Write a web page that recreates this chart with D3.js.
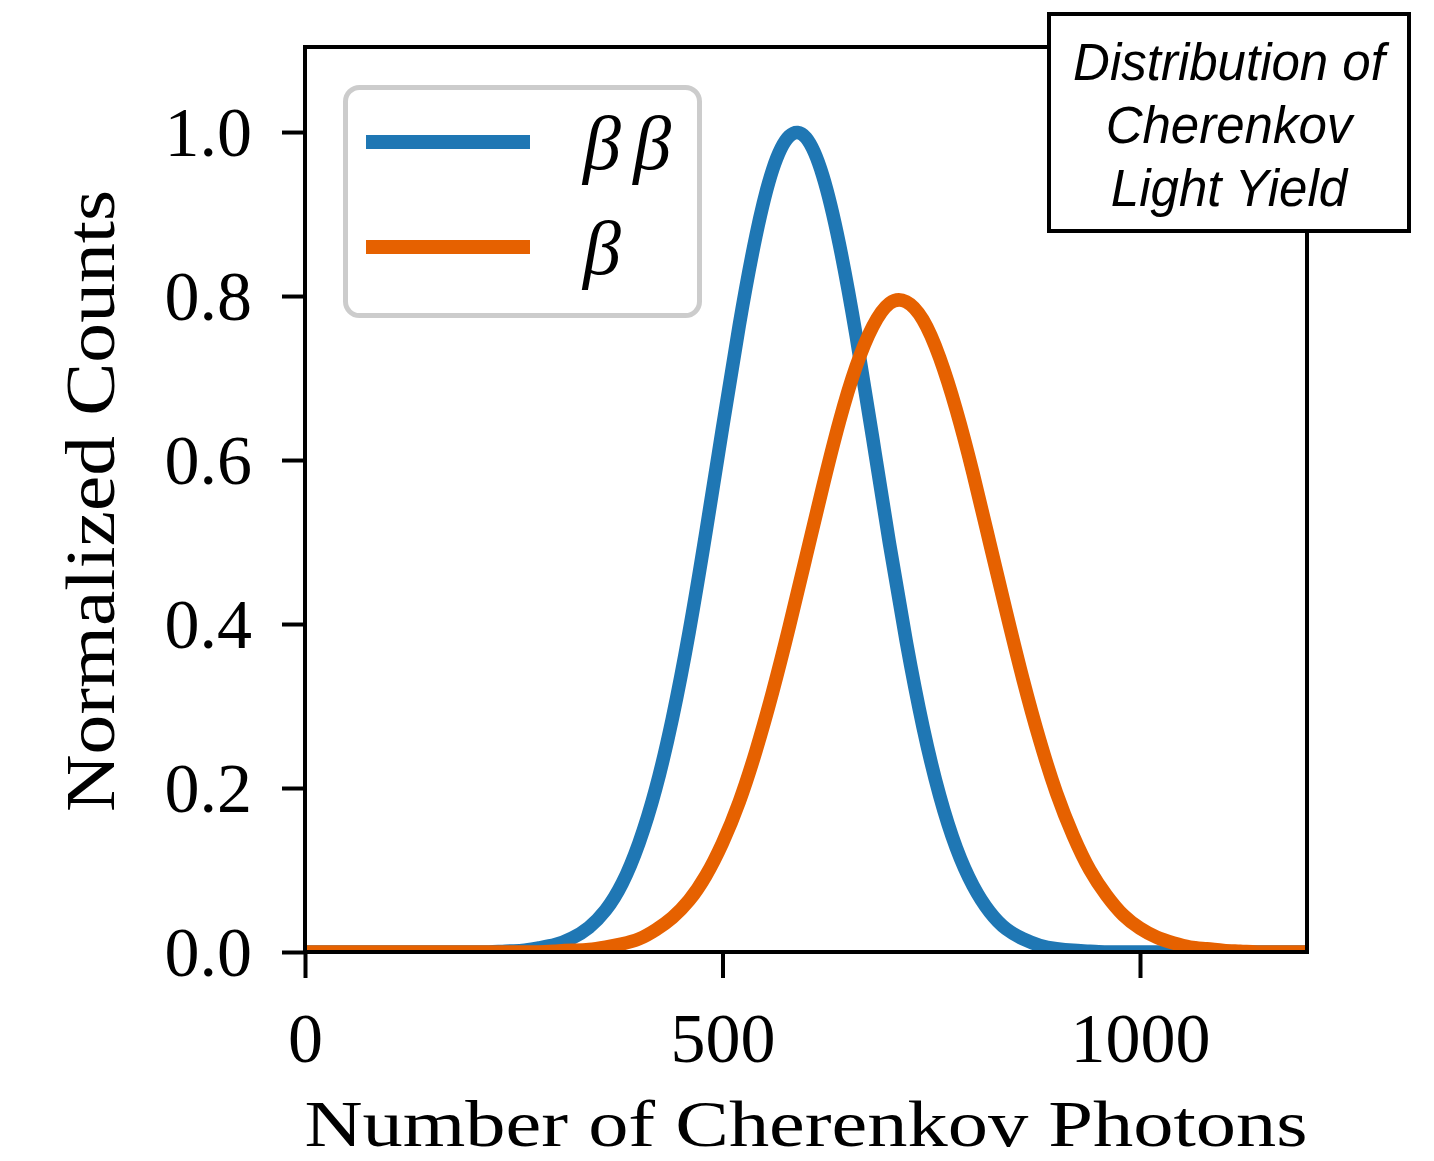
<!DOCTYPE html>
<html>
<head>
<meta charset="utf-8">
<script src="https://cdn.jsdelivr.net/npm/d3@7"></script>
<style>
  html, body { margin: 0; padding: 0; background: #ffffff; }
  svg { display: block; }
</style>
</head>
<body>
<svg id="chart" width="1434" height="1161"></svg>
<script>
// ---- data ----
const photons = [0,20,40,60,80,100,120,140,160,180,200,220,240,260,280,300,320,340,360,380,400,420,440,460,480,500,520,540,560,580,600,620,640,660,680,700,720,740,760,780,800,820,840,860,880,900,920,940,960,980,1000,1020,1040,1060,1080,1100,1120,1140,1160,1180,1200];
const countsDoubleBeta = [0,0,0,0,0,0,0,0,0,0,0,0,0.001,0.002,0.005,0.009,0.017,0.030,0.051,0.084,0.133,0.199,0.285,0.390,0.511,0.639,0.764,0.873,0.954,0.995,0.993,0.947,0.863,0.752,0.626,0.498,0.379,0.275,0.191,0.127,0.081,0.049,0.028,0.016,0.008,0.004,0.002,0.001,0,0,0,0,0,0,0,0,0,0,0,0,0];
const countsBeta = [0,0,0,0,0,0,0,0,0,0,0,0,0,0,0,0.001,0.002,0.003,0.006,0.010,0.016,0.027,0.042,0.063,0.093,0.133,0.183,0.245,0.317,0.397,0.482,0.567,0.647,0.714,0.763,0.791,0.793,0.771,0.725,0.661,0.584,0.499,0.414,0.332,0.258,0.194,0.142,0.100,0.069,0.045,0.029,0.018,0.011,0.006,0.004,0.002,0.001,0,0,0,0];
const seriesLabels = ["\u03B2\u03B2", "\u03B2"];
const seriesColors = ["#1f77b4", "#e66100"];
const xTicks = [0, 500, 1000];
const yTicks = [0, 0.2, 0.4, 0.6, 0.8, 1.0];
const annotationLines = ["Distribution of", "Cherenkov", "Light Yield"];
const xLabel = "Number of Cherenkov Photons";
const yLabel = "Normalized Counts";

// ---- layout ----
const L = 305, R = 1307, T = 47, B = 952;
const svg = d3.select("#chart");
const x = d3.scaleLinear().domain([0, 1200]).range([L, R]);
const y = d3.scaleLinear().domain([0, 1.1037]).range([B, T]);

const serif = "'Liberation Serif', 'Times New Roman', serif";

svg.append("defs").append("clipPath").attr("id", "plotclip")
  .append("rect").attr("x", L).attr("y", T).attr("width", R - L).attr("height", B - T);

// ---- lines ----
const series = [countsDoubleBeta, countsBeta];
const line = d3.line()
  .x(d => x(d[0]))
  .y(d => y(d[1]))
  .curve(d3.curveNatural);

const g = svg.append("g").attr("clip-path", "url(#plotclip)");
series.forEach((vals, i) => {
  g.append("path")
    .datum(photons.map((p, j) => [p, vals[j]]))
    .attr("d", line)
    .attr("fill", "none")
    .attr("stroke", seriesColors[i])
    .attr("stroke-width", 13.5)
    .attr("stroke-linejoin", "round");
});

// ---- axes ----
const xAxis = svg.append("g")
  .attr("transform", `translate(0,${B})`)
  .call(d3.axisBottom(x).tickValues(xTicks).tickSize(26).tickPadding(34).tickFormat(d3.format("d")));
const yAxis = svg.append("g")
  .attr("transform", `translate(${L},0)`)
  .call(d3.axisLeft(y).tickValues(yTicks).tickSize(23).tickPadding(30).tickFormat(d3.format(".1f")));

[xAxis, yAxis].forEach(ax => {
  ax.select(".domain").remove();
  ax.selectAll(".tick line").attr("stroke", "#000").attr("stroke-width", 4);
  ax.selectAll(".tick text")
    .attr("fill", "#000")
    .style("font-family", serif)
    .style("font-size", "70px");
});
yAxis.selectAll(".tick text").attr("dy", "0.34em");

// spines (frame)
svg.append("rect")
  .attr("x", L).attr("y", T).attr("width", R - L).attr("height", B - T)
  .attr("fill", "none").attr("stroke", "#000").attr("stroke-width", 4);

// ---- axis labels ----
svg.append("text")
  .attr("x", (L + R) / 2).attr("y", 1146)
  .attr("text-anchor", "middle")
  .attr("textLength", 1003).attr("lengthAdjust", "spacingAndGlyphs")
  .style("font-family", serif).style("font-size", "66px")
  .text(xLabel);

svg.append("text")
  .attr("transform", "translate(114,501) rotate(-90)")
  .attr("text-anchor", "middle")
  .attr("textLength", 622).attr("lengthAdjust", "spacingAndGlyphs")
  .style("font-family", serif).style("font-size", "70px")
  .text(yLabel);

// ---- legend ----
const lg = svg.append("g");
lg.append("rect")
  .attr("x", 345.5).attr("y", 87.5).attr("width", 354).attr("height", 228)
  .attr("rx", 14).attr("ry", 14)
  .attr("fill", "#ffffff").attr("fill-opacity", 0.8)
  .attr("stroke", "#cccccc").attr("stroke-width", 5);
const legendRowY = [142, 247];
seriesLabels.forEach((lab, i) => {
  lg.append("line")
    .attr("x1", 366).attr("x2", 530)
    .attr("y1", legendRowY[i]).attr("y2", legendRowY[i])
    .attr("stroke", seriesColors[i]).attr("stroke-width", 14);
  const t = lg.append("text")
    .attr("x", 583).attr("y", legendRowY[i] + 27)
    .style("font-family", serif).style("font-size", "76px").style("font-style", "italic")
    .text(lab);
  if (lab.length === 2) t.attr("textLength", 88).attr("lengthAdjust", "spacing");
});

// ---- annotation box ----
const ab = svg.append("g");
ab.append("rect")
  .attr("x", 1049).attr("y", 14).attr("width", 360).attr("height", 217)
  .attr("fill", "#ffffff").attr("stroke", "#000").attr("stroke-width", 4);
annotationLines.forEach((t, i) => {
  ab.append("text")
    .attr("x", 1229).attr("y", 80 + i * 63)
    .attr("text-anchor", "middle")
    .style("font-family", "'Liberation Sans', Arial, sans-serif")
    .style("font-size", "51px").style("font-style", "italic")
    .text(t);
});
</script>
</body>
</html>
